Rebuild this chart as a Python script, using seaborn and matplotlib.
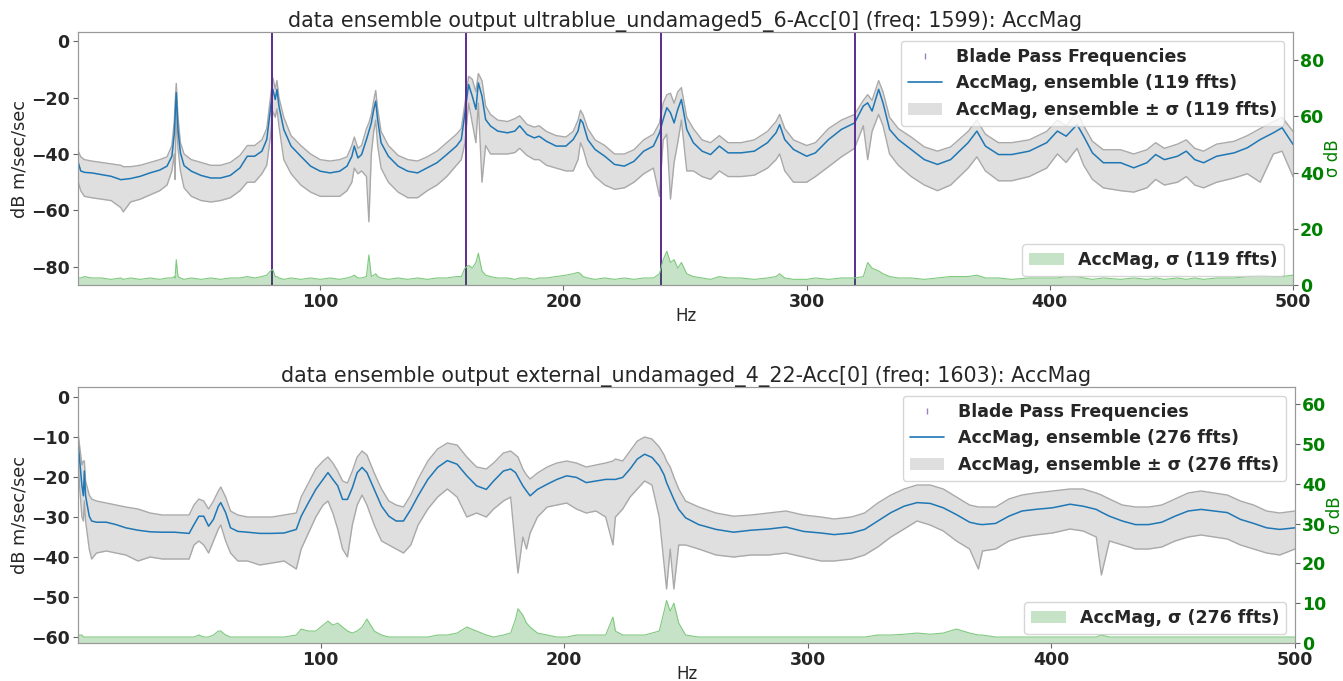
import numpy as np
import pandas as pd
import matplotlib
matplotlib.use("Agg")
import matplotlib.pyplot as plt
from matplotlib.lines import Line2D
from matplotlib.patches import Patch
import seaborn as sns

# ---------------- data: top panel (ultrablue_undamaged5_6) ----------------
top_freq = [0.5, 1.5, 3, 6, 10, 14, 18, 19, 22, 26, 30, 34, 37, 39, 40, 40.3, 40.8, 41.5, 42.5, 44,
            47, 51, 55, 59, 63, 67, 70, 73, 76, 78, 79.5, 80.5, 81.5, 82.2, 83, 85, 88, 92, 96, 100,
            104, 108, 111, 113, 114, 115.5, 117, 119, 120, 121, 122, 122.8, 123.6, 125, 128, 132, 136, 140, 144, 148,
            152, 156, 158, 159.5, 161, 162.5, 164, 165, 166.5, 168, 170, 173, 177, 180, 182, 185, 188, 190, 193, 197,
            201, 204, 206, 207, 208, 210, 213, 217, 221, 225, 229, 233, 237, 239.5, 241, 242.5, 244, 245.5, 247, 248.5,
            250.7, 253.4, 257, 260.5, 264.1, 267.7, 273, 278.5, 283.9, 287.4, 288.9, 291, 294.6, 300, 303.6, 309, 314.3, 319.7, 323.3, 325.1,
            326.9, 329.6, 331.4, 334.1, 337.7, 343, 348.4, 353.8, 359.2, 366.4, 370, 373.5, 378.9, 384.3, 391.5, 398.7, 403.1, 406.7, 411.2, 413.9,
            417.5, 422, 429.1, 434.5, 439.9, 443.5, 447.1, 452.5, 456.1, 459.6, 463.2, 468.6, 475.8, 481.2, 486.5, 491.9, 495.5, 500]
top_mean = [-43, -46, -46.5, -46.7, -47.3, -47.9, -49.1, -49, -48.7, -47.9, -46.7, -45.7, -44.3, -40.8, -32.5, -27, -18.3, -31.3, -39.6, -44.1,
            -46.1, -47.6, -48.5, -48.5, -47.6, -44.9, -40.8, -40.8, -39, -34.9, -24.2, -17.1, -20.7, -17.1, -23, -31.3, -37.2, -40.8, -44.3, -46.1,
            -46.7, -46.1, -44.3, -40.8, -37.2, -41.4, -40.2, -34.9, -32, -29, -24.2, -21.3, -27.8, -36, -40.8, -44.3, -46.1, -46.7, -44.9, -43.1,
            -40.2, -37.2, -34.9, -25.4, -15.4, -19.5, -24.2, -14.8, -19.5, -27.8, -30.1, -31.9, -32.5, -31.9, -30, -33.1, -34.3, -33.7, -35.5, -37.2,
            -37.2, -34.9, -31.9, -27.8, -29, -34.9, -38.4, -40.8, -43.7, -44.3, -42.6, -39, -37.2, -32.5, -27.8, -23.6, -25.4, -29, -24.2, -20.7,
            -31.3, -36, -39, -40.2, -37.2, -39.6, -39.6, -39, -36, -32.5, -29.6, -34.9, -38.4, -40.8, -39.6, -34.9, -31.3, -29, -23, -21.9,
            -24.8, -17.1, -21.9, -31.3, -34.9, -38.4, -42, -43.7, -42, -36, -31.9, -37.2, -40.2, -40.2, -39, -36, -31.9, -33.7, -29.6, -33.7,
            -39.6, -43.1, -43.1, -44.9, -43.1, -40.2, -42, -40.8, -39, -42, -43.1, -40.8, -39.6, -37.8, -34.9, -32.5, -30.7, -36.6]
top_upper = [-39, -41, -42, -42.5, -43, -43.5, -44, -44.5, -44.5, -44, -43, -42, -41, -37, -28, -22, -15, -27, -36, -40,
             -42, -43, -44, -44, -43, -40.5, -37, -37, -35, -31, -20, -13, -17, -14, -20, -27, -33.5, -37, -40, -42,
             -42.5, -42, -41, -37, -34, -38, -37, -31, -29, -26, -21, -17.5, -24, -32, -37, -40.5, -42, -42.5, -41, -39,
             -36, -33, -31, -22, -12.5, -13.5, -18, -11.5, -14, -23, -26, -28, -28.5, -27.5, -26.5, -29.5, -30.5, -30, -32, -33.5,
             -34, -32, -28, -24.5, -26, -31, -35, -37, -40, -40, -38.5, -35, -33, -29, -22, -19, -18.5, -22, -18, -16.5,
             -27, -31, -35, -36, -33.5, -36, -36, -35, -32, -28.5, -26, -31, -35, -37, -36, -31, -28, -26, -21, -19,
             -21, -14, -18, -27, -31, -34, -37.5, -39, -37.5, -32, -28, -33, -36, -36, -35, -32, -28, -30, -25, -30,
             -35.5, -38.5, -38.5, -40, -38.5, -36, -38, -36.5, -35, -38, -39, -36.5, -35.5, -33.5, -31, -28.5, -27, -32]
top_lower = [-50, -53, -55, -55.5, -56, -56.5, -59, -60.5, -57, -56, -54.5, -53, -51, -46, -40, -49, -24, -38, -46, -52,
             -55, -56.5, -57, -56.5, -55.5, -53, -50, -50, -47, -44, -34, -25, -27, -24, -30, -42, -47, -51, -53.5, -55,
             -55, -55, -53, -50, -45, -47, -46, -48, -64, -40, -32, -28, -37, -45, -50, -53.5, -55.5, -55.5, -53, -51,
             -48, -44, -42, -36, -22, -29, -36, -22, -50, -37, -40, -40, -40, -39.5, -38, -40.5, -42, -42, -44, -45,
             -46, -46, -42, -36, -38, -44, -48, -51, -52.5, -52, -50, -47, -45, -55, -35, -33, -56, -43, -36, -28,
             -46, -46, -48, -49, -46, -48, -48, -47.5, -45, -42, -40, -46, -50, -50, -48, -44.5, -41, -38, -30, -42,
             -32, -26, -30, -40, -44, -48, -51, -53, -51, -45, -41, -46, -49.5, -49.5, -48, -45, -40, -43, -38, -44,
             -49, -52, -53, -53.5, -52, -49, -51, -50, -48, -51, -52, -50, -48.5, -47, -50, -40, -39, -48]
top_sigma = [2.5, 2.5, 3, 2.5, 2.5, 2, 2.5, 2, 2.5, 2, 2.5, 2, 2.5, 2.5, 3, 2.5, 9, 3, 2.5, 2,
             2.5, 2, 2.5, 2, 2.5, 2.5, 3, 2.5, 3, 3.5, 5, 5.5, 3, 3, 2.5, 2, 2.5, 2, 2.5, 2,
             2.5, 2, 2.5, 3, 3.5, 2.5, 2.5, 3, 10.7, 3, 3.5, 4, 3, 2.5, 2, 2.5, 2, 2.5, 2, 2.5,
             2.5, 3, 3, 6, 7, 6, 8, 11.3, 5, 3.5, 3, 2.5, 2.5, 2, 2.5, 2.5, 2, 2.5, 2.5, 3,
             3.5, 4, 4.5, 4, 3, 2.5, 2, 2.5, 2, 2.5, 2, 2.5, 2.5, 4, 9, 12, 8, 9, 6, 8,
             4, 3, 2.5, 2, 3, 2.5, 2.5, 2, 2.5, 3, 4, 2.5, 2, 2, 2.5, 2, 2.5, 2.5, 3, 8,
             6, 5, 4, 3, 2.5, 2.5, 2, 2.5, 3, 3, 3.5, 2.5, 2.5, 2, 2.5, 2.5, 2.5, 3, 3, 2.5,
             2, 2.5, 2, 2.5, 2, 2.5, 2, 2.5, 2, 2.5, 2, 2.5, 2.5, 3, 3.5, 3, 3, 3.5]
blade_freqs = [80, 160, 240, 320]

# ---------------- data: bottom panel (external_undamaged_4_22) ----------------
bot_freq = [0.4, 1, 2, 2.6, 3, 3.5, 5, 6, 8, 12, 16, 20, 25, 30, 35, 40, 46, 48, 50, 52,
            54, 56, 58, 59, 61, 63, 66, 70, 75, 80, 85, 90, 92, 95, 98, 101, 103, 105, 107, 109,
            111, 113, 115, 117, 119, 122, 125, 128, 131, 134, 137, 140, 144, 148, 152, 156, 160, 164, 168, 171,
            175, 178, 180, 181, 183, 184.5, 186, 189, 193, 197, 201, 205, 209, 213, 217, 220, 221, 224, 227, 230,
            233, 236, 239, 241, 242, 243.5, 245, 247, 249.8, 255.2, 262.3, 269.5, 276.7, 283.9, 291, 298.2, 305.4, 310.8, 317.9, 323.3,
            328.7, 334.1, 339.5, 344.8, 350.2, 355.6, 361, 366.4, 370, 371.7, 377.1, 382.5, 387.9, 393.3, 400.4, 407.6, 413, 418.4, 420.5, 423.8,
            429.1, 434.5, 439.9, 445.3, 450.7, 456.1, 461.4, 466.8, 472.2, 477.6, 483, 488.3, 493.7, 500]
bot_mean = [-11.3, -15.5, -22.2, -24.7, -18.5, -24.7, -29.8, -31, -31.3, -31.3, -31.9, -32.7, -33.3, -33.7, -33.8, -33.8, -34.1, -31.9, -29.8, -29.8,
            -32.3, -30.6, -27.3, -26.4, -28.9, -32.7, -33.6, -33.8, -34.1, -34.1, -34, -33.1, -29.8, -26.4, -23.1, -20.6, -18.9, -20.6, -22.2, -25.6,
            -25.6, -22.7, -18.9, -17.6, -18.9, -23.1, -27.3, -29.8, -31, -31, -28.1, -24.7, -20.6, -17.6, -15.9, -16.8, -19.7, -22.2, -23.1, -21,
            -18.5, -18, -18.9, -20, -22.2, -23.5, -24.7, -23.1, -21.8, -20.6, -19.7, -20.1, -21.4, -21, -20.6, -20.6, -20.6, -20.1, -18, -15.5,
            -14.3, -15.1, -17.2, -19.5, -21.4, -23.5, -25.6, -28.1, -30.2, -31.9, -33.1, -33.8, -33.3, -33, -32.5, -33.6, -34, -34.4, -34, -33.1,
            -31, -28.9, -27.3, -26.4, -26.6, -27.7, -29.4, -31.3, -31.8, -31.9, -31.6, -29.8, -28.5, -28.1, -27.7, -26.8, -27.3, -28.1, -28.8, -29.8,
            -31, -31.9, -31.9, -31.3, -29.8, -28.5, -28.1, -28.5, -28.9, -30.6, -31.6, -32.7, -33.1, -32.7]
bot_upper = [-9, -12, -17, -16, -16, -21, -24.5, -25.5, -26, -26.5, -27, -27.5, -28, -29, -29.5, -29.5, -29.5, -27, -25.5, -26,
             -28, -26, -23.5, -22.5, -25, -28.5, -29.5, -30, -30, -30, -29.5, -29, -25, -21.5, -18, -16, -15, -16.5, -18.5, -21,
             -21.5, -18.5, -15, -13.5, -14.5, -19, -23, -26, -27, -27.5, -24.5, -20.5, -16, -13, -11.5, -12, -15, -17.5, -18, -16.5,
             -14, -13.5, -14.5, -15, -18, -19.5, -20.5, -19, -17.5, -16.5, -16, -16.5, -17.5, -17, -16.5, -16, -15.5, -16, -13.5, -11,
             -10, -10.5, -12.5, -14.5, -16, -17.5, -20, -23, -26, -27.5, -29, -29.8, -29.5, -29, -28.5, -29.5, -30, -30.5, -30, -29,
             -26.5, -24.5, -23, -22, -22, -23, -25, -27, -27.5, -27.5, -27.5, -25.5, -24.5, -24, -23.5, -23, -23, -24, -24.5, -25.5,
             -27, -27.5, -27.5, -27, -25.5, -24, -23.5, -24, -24.5, -26, -27, -28.5, -29, -28.5]
bot_lower = [-15, -22, -30, -31, -26, -31, -38, -40.5, -39, -38.5, -39, -39.5, -41, -40, -40.5, -40.5, -40.5, -37, -36, -37,
             -39, -36, -33, -32, -36, -39, -41, -41, -42, -41.5, -41, -43, -38, -34, -30, -27, -26, -29, -33, -38,
             -40, -32, -27, -24.5, -27, -32, -36, -37, -38, -39, -37, -32, -28, -25, -23, -25, -30, -29, -30, -28,
             -26, -25, -38, -44, -35, -38, -34, -30, -27.5, -27, -26.5, -28, -29, -28.5, -30, -37, -30, -28, -25, -23,
             -21, -22, -30, -42, -48, -38, -48, -37, -37, -38, -39.5, -40, -39.5, -39.5, -39, -40, -41, -41, -40.5, -39.5,
             -37.5, -35, -33, -31, -32, -33.5, -36, -38, -43, -38.5, -38, -36, -35, -34.5, -34, -33, -33.5, -35, -44.5, -36,
             -37, -38, -38, -37.5, -36, -35, -34.5, -35, -35.5, -37, -38, -39, -39.5, -38]
bot_sigma = [2, 2, 2, 1.5, 1.5, 1.5, 1.5, 1.5, 1.5, 1.5, 1.5, 1.5, 1.5, 1.5, 1.5, 1.5, 1.5, 1.5, 2, 1.5,
             1.5, 2, 3, 3, 2, 1.5, 1.5, 1.5, 1.5, 1.5, 1.5, 2, 3.5, 3, 3, 4.5, 5.5, 4.5, 5, 4,
             3, 2.5, 3, 4, 6, 3, 2, 1.5, 1.5, 1.5, 1.5, 1.5, 1.5, 2, 2, 2.5, 4, 3, 2, 1.5,
             2, 2.5, 6, 8.6, 7, 5, 4, 2.5, 2, 1.5, 1.5, 2, 2, 2, 2, 6.5, 3, 2, 2, 2,
             2, 2.5, 3, 8, 10.7, 8, 10, 5, 2, 1.5, 1.5, 1.5, 1.5, 1.5, 1.5, 1.5, 1.5, 1.5, 1.5, 1.5,
             2, 2, 2.2, 2.5, 2.2, 2.5, 3.5, 2.5, 2, 2, 1.5, 1.5, 1.5, 1.5, 1.5, 1.5, 1.5, 1.5, 2, 1.5,
             1.5, 1.5, 1.5, 1.5, 1.5, 1.5, 1.5, 1.5, 1.5, 1.5, 1.5, 1.5, 1.5, 1.5]

# ---------------- style ----------------
sns.set_style("white")
plt.rcParams["font.family"] = ["DejaVu Sans"]
plt.rcParams["axes.edgecolor"] = "0.6"
plt.rcParams["xtick.bottom"] = True
plt.rcParams["ytick.left"] = True

BLUE = "#1f77b4"
PURPLE = "#5b2c8f"
GREEN = "green"
TICK_FS = 12.5
LEG_FS = 12.5

fig = plt.figure(figsize=(13.43, 6.81), dpi=100)
ax_top = fig.add_axes([0.0581, 0.5815, 0.9047, 0.3715])
ax_bot = fig.add_axes([0.0581, 0.0558, 0.9062, 0.3759])


def draw_panel(ax, freq, mean, upper, lower, sigma, title, nfft, ylim, yticks, sig_ylim, sig_ticks, blades):
    df = pd.DataFrame({"Hz": freq, "mean": mean, "upper": upper, "lower": lower, "sigma": sigma})
    ax.fill_between(df["Hz"], df["lower"], df["upper"], color="grey", alpha=0.25, linewidth=0, zorder=1)
    sns.lineplot(data=df, x="Hz", y="upper", ax=ax, color="darkgrey", linewidth=1.0,
                 estimator=None, sort=False, legend=False, zorder=2)
    sns.lineplot(data=df, x="Hz", y="lower", ax=ax, color="darkgrey", linewidth=1.0,
                 estimator=None, sort=False, legend=False, zorder=2)
    sns.lineplot(data=df, x="Hz", y="mean", ax=ax, color=BLUE, linewidth=1.1,
                 estimator=None, sort=False, legend=False, zorder=3)
    for b in blades:
        ax.axvline(b, color=PURPLE, linewidth=1.4, zorder=4)
    ax.set_xlim(0.4, 500)
    ax.set_ylim(*ylim)
    ax.set_yticks(yticks)
    ax.set_xticks([100, 200, 300, 400, 500])
    ax.set_title(title, fontsize=14.9, pad=3)
    ax.set_xlabel("Hz", fontsize=12, labelpad=-3)
    ax.set_ylabel("dB m/sec/sec", fontsize=12.7, labelpad=2)
    for lab in ax.get_xticklabels() + ax.get_yticklabels():
        lab.set_fontweight("bold")
        lab.set_fontsize(TICK_FS)
    ax.tick_params(length=3.5, color="0.4", pad=2.5)

    handles = [Line2D([], [], color=PURPLE, marker="|", linestyle="None", markersize=5, alpha=0.6),
               Line2D([], [], color=BLUE, linewidth=1.2),
               Patch(facecolor="grey", alpha=0.25, linewidth=0)]
    labels = ["Blade Pass Frequencies",
              f"AccMag, ensemble ({nfft} ffts)",
              f"AccMag, ensemble \u00b1 \u03c3 ({nfft} ffts)"]
    ax.legend(handles, labels, loc="upper right", prop={"weight": "bold", "size": LEG_FS},
              borderaxespad=0.5)

    ax2 = ax.twinx()
    ax2.fill_between(df["Hz"], 0, df["sigma"], color=GREEN, alpha=0.22, linewidth=0)
    sns.lineplot(data=df, x="Hz", y="sigma", ax=ax2, color="#7fc97f", linewidth=0.8,
                 estimator=None, sort=False, legend=False)
    ax2.set_ylim(*sig_ylim)
    ax2.set_yticks(sig_ticks)
    ax2.set_xlim(0.4, 500)
    ax2.set_ylabel("\u03c3 dB", color=GREEN, fontsize=12, labelpad=0)
    ax2.set_xlabel("")
    for lab in ax2.get_yticklabels():
        lab.set_color(GREEN)
        lab.set_fontweight("bold")
        lab.set_fontsize(TICK_FS)
    ax2.tick_params(axis="y", length=3.5, color="0.4", pad=1.5)
    ax2.legend([Patch(facecolor=GREEN, alpha=0.22, linewidth=0)], [f"AccMag, \u03c3 ({nfft} ffts)"],
               loc="lower right", prop={"weight": "bold", "size": LEG_FS}, borderaxespad=0.5)


draw_panel(ax_top, top_freq, top_mean, top_upper, top_lower, top_sigma,
           "data ensemble output ultrablue_undamaged5_6-Acc[0] (freq: 1599): AccMag", 119,
           (-86.4, 3.2), [0, -20, -40, -60, -80], (0, 90), [0, 20, 40, 60, 80], blade_freqs)
draw_panel(ax_bot, bot_freq, bot_mean, bot_upper, bot_lower, bot_sigma,
           "data ensemble output external_undamaged_4_22-Acc[0] (freq: 1603): AccMag", 276,
           (-61.5, 2.5), [0, -10, -20, -30, -40, -50, -60], (0, 64.3), [0, 10, 20, 30, 40, 50, 60], [])

fig.savefig("out.png", dpi=100)
